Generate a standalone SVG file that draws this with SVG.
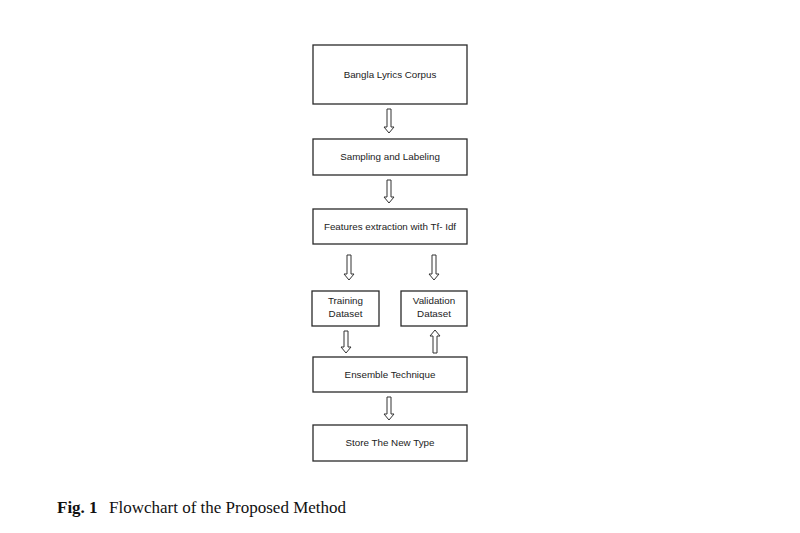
<svg xmlns="http://www.w3.org/2000/svg" width="800" height="533" viewBox="0 0 800 533">
<style>
.box{fill:#fff;stroke:#2a2a2a;stroke-width:1.3}
.lbl{font-family:"Liberation Sans",Arial,sans-serif;font-size:9.8px;fill:#222;text-anchor:middle}
.arr{fill:#fff;stroke:#333;stroke-width:1}
.cap{font-family:"Liberation Serif","Times New Roman",serif;font-size:17px;fill:#111}
</style>
<rect width="800" height="533" fill="#fff"/>
<g id="n1"><rect class="box" x="313" y="45" width="154" height="59"/><text class="lbl" x="390" y="78">Bangla Lyrics Corpus</text></g>
<g id="n2"><rect class="box" x="313" y="139" width="154" height="36"/><text class="lbl" x="390" y="160">Sampling and Labeling</text></g>
<g id="n3"><rect class="box" x="313" y="209" width="154" height="35"/><text class="lbl" x="390" y="230">Features extraction with Tf- Idf</text></g>
<g id="n4"><rect class="box" x="312" y="291" width="67" height="35"/><text class="lbl" x="345.5" y="304">Training</text><text class="lbl" x="345.5" y="317">Dataset</text></g>
<g id="n5"><rect class="box" x="401" y="291" width="66" height="35"/><text class="lbl" x="434" y="304">Validation</text><text class="lbl" x="434" y="317">Dataset</text></g>
<g id="n6"><rect class="box" x="313" y="357" width="154" height="35"/><text class="lbl" x="390" y="378">Ensemble Technique</text></g>
<g id="n7"><rect class="box" x="313" y="425" width="154" height="36"/><text class="lbl" x="390" y="446">Store The New Type</text></g>
<g id="connectors">
<path class="arr" d="M387 109H391V127H394L389 133L384 127H387Z"/>
<path class="arr" d="M387 180H391V197H394L389 203L384 197H387Z"/>
<path class="arr" d="M347 255H351V274H354L349 280L344 274H347Z"/>
<path class="arr" d="M432 255H436V274H439L434 280L429 274H432Z"/>
<path class="arr" d="M344 331H348V347H351L346 353L341 347H344Z"/>
<path class="arr" d="M433 353H437V336H440L435 330L430 336H433Z"/>
<path class="arr" d="M387 397H391V414H394L389 420L384 414H387Z"/>
</g>
<text class="cap" x="57" y="513" font-weight="bold">Fig. 1</text>
<text class="cap" x="109" y="513">Flowchart of the Proposed Method</text>
</svg>
